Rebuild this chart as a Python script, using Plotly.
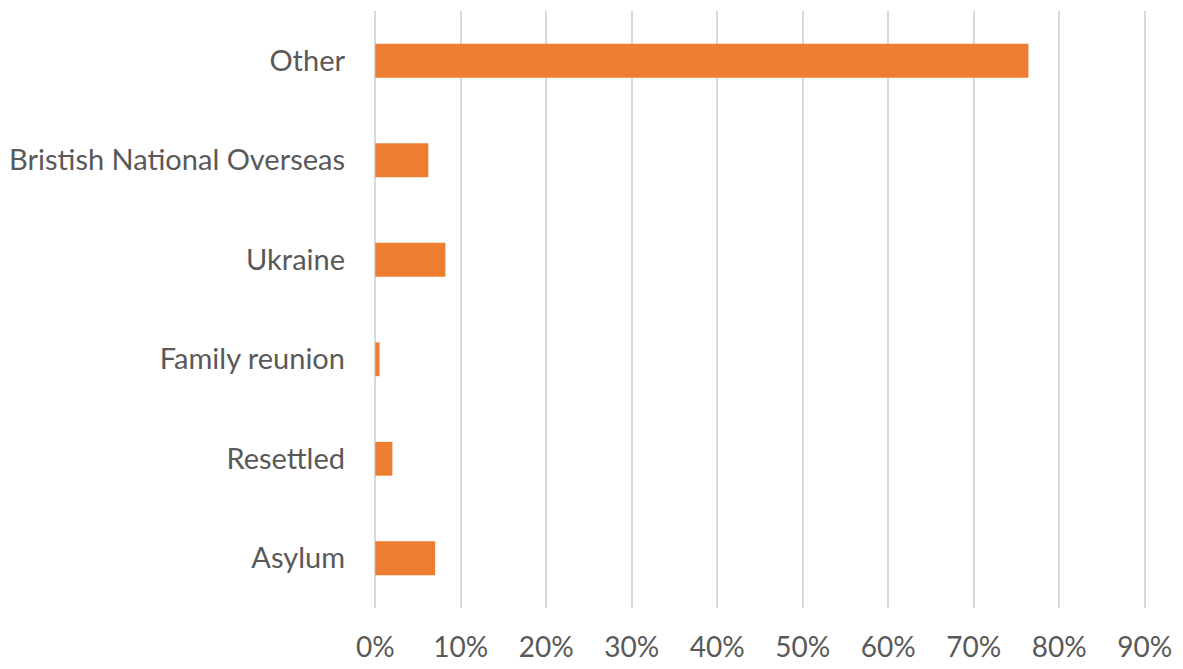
import plotly.graph_objects as go

categories = ["Asylum", "Resettled", "Family reunion", "Ukraine", "Bristish National Overseas", "Other"]
shares = [0.070, 0.020, 0.005, 0.082, 0.062, 0.764]
tick_vals = [0, 0.1, 0.2, 0.3, 0.4, 0.5, 0.6, 0.7, 0.8, 0.9]
tick_text = ["0%", "10%", "20%", "30%", "40%", "50%", "60%", "70%", "80%", "90%"]

fig = go.Figure(go.Bar(
    x=shares, y=categories, orientation="h",
    marker=dict(color="#ED7D31", line=dict(width=0)),
    width=0.34,
))

fig.update_layout(
    width=1183, height=669,
    margin=dict(l=374, r=37, t=11, b=61),
    paper_bgcolor="white", plot_bgcolor="white",
    font=dict(family="Lato, Open Sans, sans-serif", size=29, color="#595959"),
    showlegend=False,
)
fig.update_xaxes(
    range=[-0.0015, 0.9015], tickvals=tick_vals, ticktext=tick_text,
    showgrid=True, gridcolor="#d9d9d9", gridwidth=2, automargin=False,
    zeroline=False, showline=False, ticks="", ticklabelstandoff=20,
    tickfont=dict(size=28, color="#595959"),
)
fig.update_yaxes(
    categoryorder="array", categoryarray=categories, automargin=False,
    showgrid=False, zeroline=False, showline=False, ticks="",
    ticklabelstandoff=28,
    tickfont=dict(size=29, color="#595959"),
)
fig.write_html("out.html")
